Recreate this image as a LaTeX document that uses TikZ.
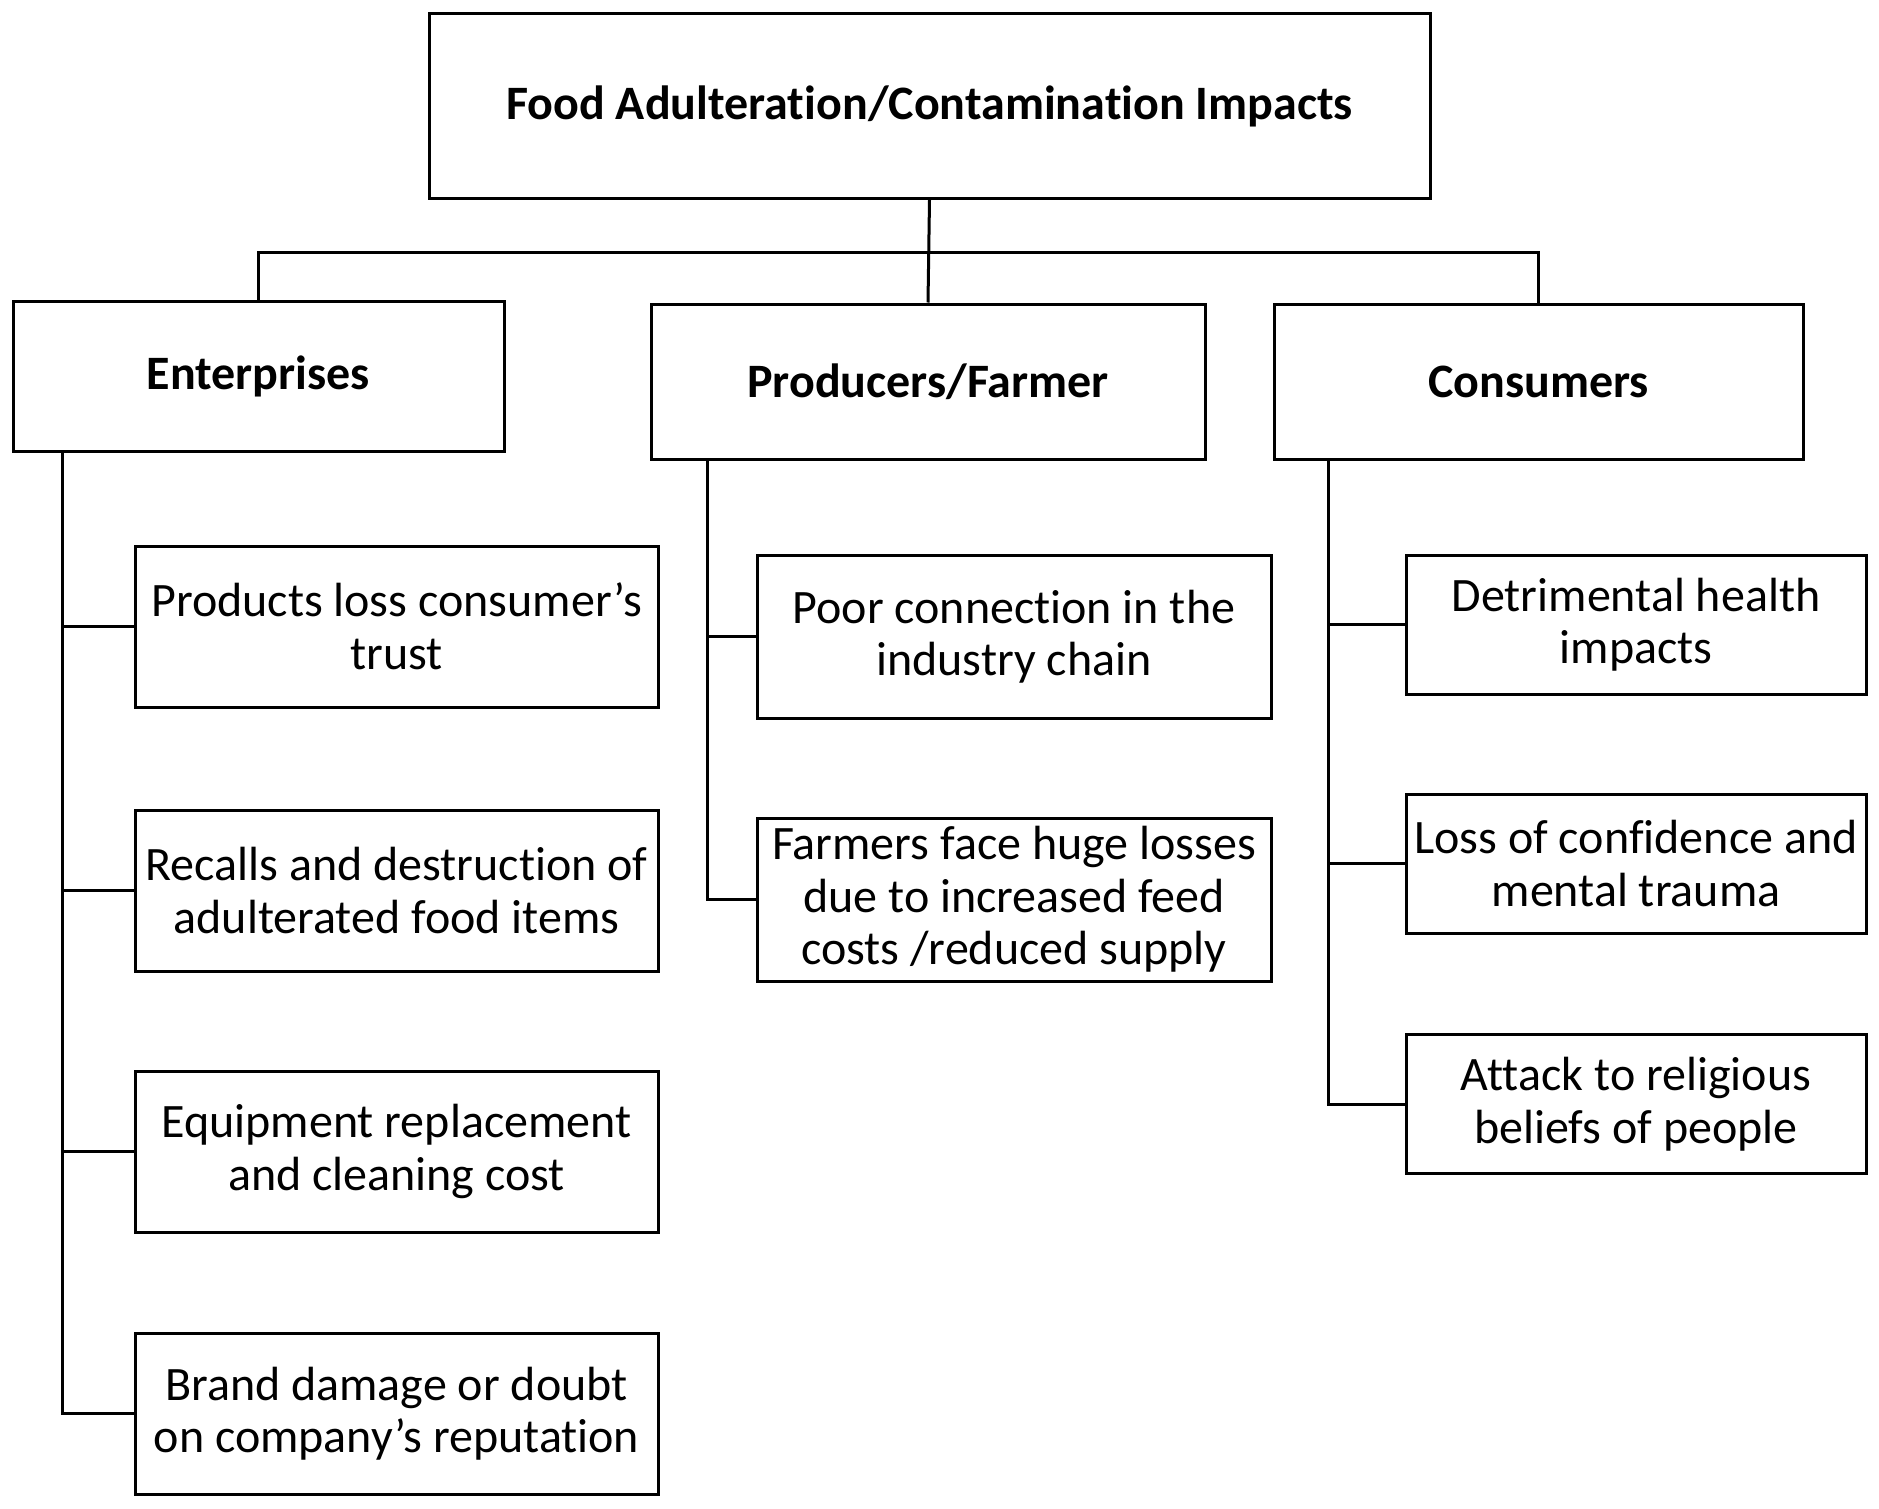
\documentclass[tikz,border=0pt]{standalone}
\usepackage{fontspec}
\setmainfont[Ligatures=NoCommon]{Carlito}
\usepackage{tikz}

\begin{document}
\begin{tikzpicture}[x=0.5pt, y=-0.5pt, line width=1.5pt,
  box/.style={draw, rectangle, align=center, inner sep=0pt, font=\fontsize{24pt}{26.3pt}\selectfont},
  head/.style={box, font=\fontsize{24pt}{26.3pt}\selectfont\bfseries}]
\useasboundingbox (0,0) rectangle (1879,1509);
% top
\node (0)[head, minimum width=500.5pt, minimum height=92pt] at (929.5,106) {Food Adulteration/Contamination Impacts};
% second level
\node (1)[head, minimum width=245.5pt, minimum height=75pt] at (258.5,376) {Enterprises};
\node (2)[head, minimum width=277pt, minimum height=77.5pt] at (928,381.5) {Producers/Farmer};
\node (3)[head, minimum width=264.5pt, minimum height=77.5pt] at (1538.5,381.5) {Consumers};
% enterprises
\node (11)[box, minimum width=261.5pt, minimum height=80.5pt] at (396.5,626.5) {Products loss consumer’s\\trust};
\node (12)[box, minimum width=261.5pt, minimum height=80.5pt] at (396.5,890.5) {Recalls and destruction of\\adulterated food items};
\node (13)[box, minimum width=261.5pt, minimum height=80.5pt] at (396.5,1151.5) {Equipment replacement\\and cleaning cost};
\node (14)[box, minimum width=261.5pt, minimum height=80.5pt] at (396.5,1413.5) {Brand damage or doubt\\on company’s reputation};
% producers
\node (21)[box, minimum width=257pt, minimum height=81.5pt] at (1014,636.5) {Poor connection in the\\industry chain};
\node (22)[box, minimum width=257pt, minimum height=81.5pt] at (1014,899.5) {Farmers face huge losses\\due to increased feed\\costs /reduced supply};
% consumers
\node (31)[box, minimum width=230pt, minimum height=69.5pt] at (1636,624.5) {Detrimental health\\impacts};
\node (32)[box, minimum width=230pt, minimum height=69.5pt] at (1636,863.5) {Loss of confidence and\\mental trauma};
\node (33)[box, minimum width=230pt, minimum height=69.5pt] at (1636,1104) {Attack to religious\\beliefs of people};

\coordinate (bus) at (929,252);
\coordinate (s1) at (62,451);
\coordinate (s2) at (707,459);
\coordinate (s3) at (1328,459);

\draw (0.south) -- (2.north);
\draw (1.north) |- (bus) -| (3.north);
\foreach \c in {11,12,13,14} \draw (s1) |- (\c.west);
\foreach \c in {21,22} \draw (s2) |- (\c.west);
\foreach \c in {31,32,33} \draw (s3) |- (\c.west);
\end{tikzpicture}
\end{document}
